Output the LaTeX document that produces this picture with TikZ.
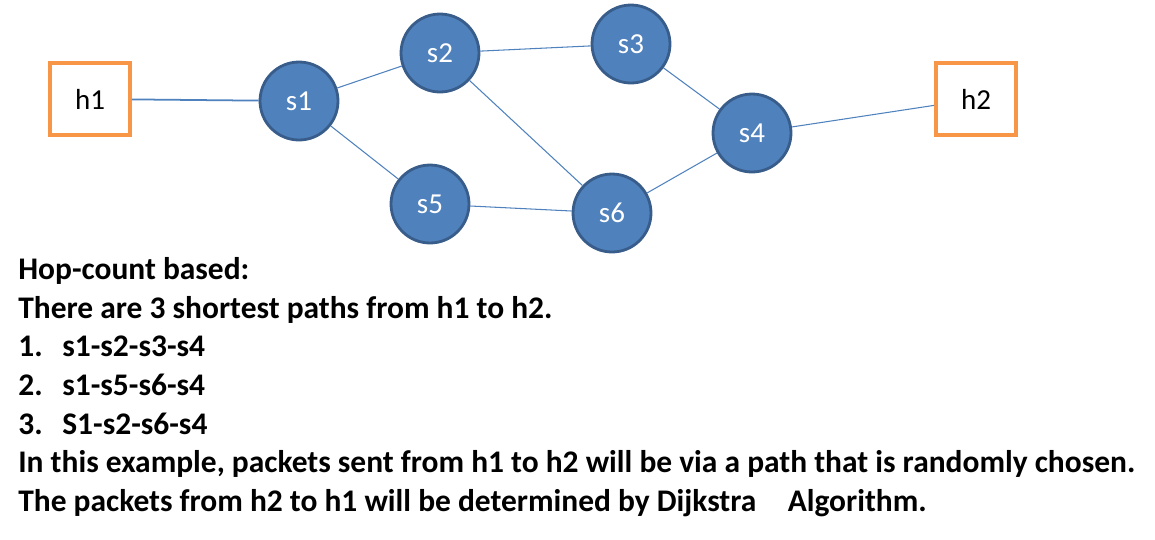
\documentclass[tikz,border=0pt]{standalone}
\usepackage{fontspec}
\setmainfont{Carlito}
\usetikzlibrary{positioning}
\definecolor{swfill}{HTML}{4F81BD}
\definecolor{swline}{HTML}{385D8A}
\definecolor{hostline}{HTML}{F79646}
\tikzset{
  switch/.style={circle, draw=swline, line width=1.6pt, fill=swfill, text=white, minimum size=1.56cm, inner sep=0pt, font=\fontsize{16.5}{19}\selectfont},
  host/.style={rectangle, draw=hostline, line width=2.2pt, fill=white, minimum width=1.6cm, minimum height=1.44cm, font=\fontsize{16.5}{19}\selectfont},
  link/.style={draw=swfill, line width=0.6pt}
}
\begin{document}
\begin{tikzpicture}[x=0.02cm, y=-0.02cm]
    \useasboundingbox (0,0) rectangle (1155,539);
    % Place nodes
    \node [host] (h1) at (90,99) {h1};
    \node [host] (h2) at (976,99) {h2};
    \node [switch] (s1) at (299,101) {s1};
    \node [switch] (s2) at (440,53) {s2};
    \node [switch] (s3) at (631,44) {s3};
    \node [switch] (s4) at (752,133) {s4};
    \node [switch] (s5) at (430,204) {s5};
    \node [switch] (s6) at (612,213) {s6};
    % Draw edges
    \path [link, line width=1pt] (h1) -- (s1);
    \path [link] (s1) -- (s2);
    \path [link] (s1) -- (s5);
    \path [link] (s2) -- (s3);
    \path [link] (s2) -- (s6);
    \path [link] (s3) -- (s4);
    \path [link] (s5) -- (s6);
    \path [link] (s6) -- (s4);
    \path [link] (s4) -- (h2);
    % Caption text
    \node [anchor=north west, align=left, inner sep=0pt, font=\fontsize{17.9}{22}\selectfont\bfseries] (notes) at (18,257) {%
      Hop-count based:\\
      There are 3 shortest paths from h1 to h2.\\
      \makebox[0.88cm][l]{1.}s1-s2-s3-s4\\
      \makebox[0.88cm][l]{2.}s1-s5-s6-s4\\
      \makebox[0.88cm][l]{3.}S1-s2-s6-s4\\
      In this example, packets sent from h1 to h2 will be via a path that is randomly chosen.\\
      The packets from h2 to h1 will be determined by Dijkstra\quad Algorithm.};
\end{tikzpicture}
\end{document}
